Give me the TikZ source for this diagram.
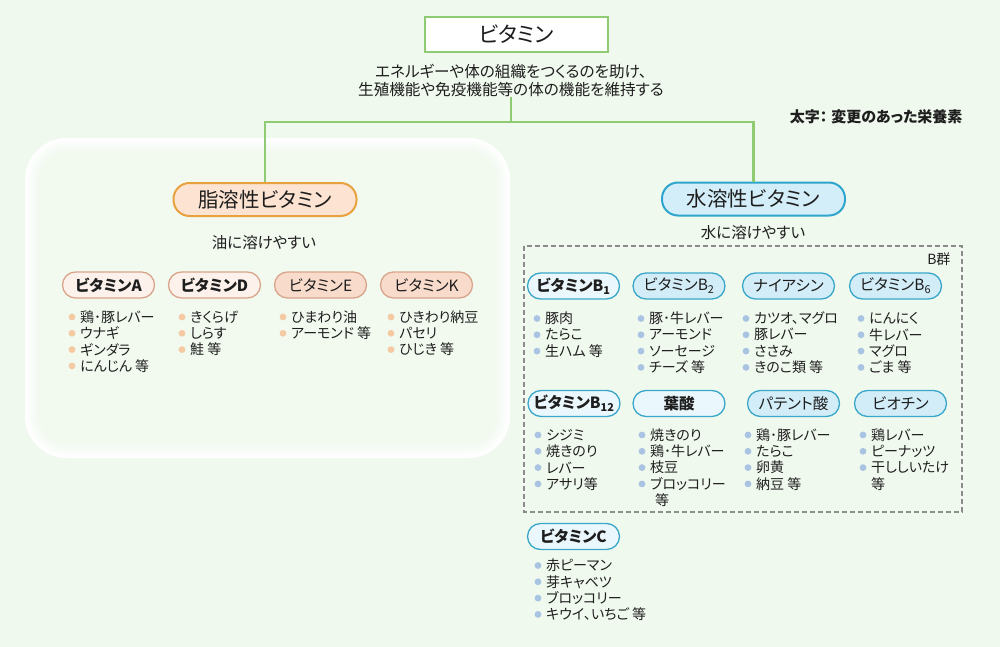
\documentclass[tikz,border=0pt]{standalone}
\usepackage{fontspec}
\setmainfont[RawFeature=+palt]{Noto Sans CJK JP}
\definecolor{bg}{HTML}{F0F9EE}
\definecolor{ink}{HTML}{1E1E1E}
\definecolor{linegreen}{HTML}{8FCB72}
\definecolor{fatedge}{HTML}{E9A13F}
\definecolor{fatfill}{HTML}{FCE3D2}
\definecolor{fatline}{HTML}{D9A58C}
\definecolor{fatpale}{HTML}{FDF2EB}
\definecolor{fatpeach}{HTML}{F9DBCB}
\definecolor{wateredge}{HTML}{2EA5CC}
\definecolor{waterfill}{HTML}{D3EEF9}
\definecolor{waterline}{HTML}{3AA7CA}
\definecolor{waterpale}{HTML}{EAF7FC}
\definecolor{waterblue}{HTML}{D2EDF8}
\definecolor{dotorange}{HTML}{F5C9A2}
\definecolor{dotblue}{HTML}{A9C4E3}
\definecolor{dashgray}{HTML}{8C8C8C}
\newcommand\fs[1]{\fontsize{#1}{#1}\selectfont}
\newcommand\foodlist[5]{%
  \foreach \food [count=\k] in {#5} {
    \fill[#1] (#2,{#3+16.3*(\k-1)}) circle (3.4);
    \node[food] (#4\k) at ({#2+8},{#3+16.3*(\k-1)}) {\food};
  }}
\begin{document}
\begin{tikzpicture}[x=1pt,y=-1pt,text=ink,
  topbox/.style={draw=linegreen,line width=2.2,fill=white,minimum width=183,minimum height=35,font=\fs{21.5}},
  bigpill/.style={rounded corners=16,minimum width=183,minimum height=33,line width=2,font=\fs{20.5}},
  fatbig/.style={bigpill,draw=fatedge,fill=fatfill},
  waterbig/.style={bigpill,draw=wateredge,fill=waterfill},
  pill/.style={rounded corners=13,minimum width=92,minimum height=26,line width=1.3,inner sep=0pt,font=\fs{15.5}},
  fatpill/.style={pill,draw=fatline,fill=fatpeach},
  fatnew/.style={pill,draw=fatline,fill=fatpale,font=\fs{15.5}\bfseries},
  waterpill/.style={pill,draw=waterline,fill=waterblue},
  waternew/.style={pill,draw=waterline,fill=waterpale,font=\fs{15.5}\bfseries},
  food/.style={anchor=west,inner sep=0pt,font=\fs{14}},
  note/.style={font=\fs{15.5}},
  link/.style={draw=linegreen,line width=2.8}]
\useasboundingbox (0,0) rectangle (1000,647);
\fill[bg] (0,0) rectangle (1000,647);
\foreach \k/\p in {0/100,2/88,4/75,6/62,8/48,10/34,12/22,14/12} {
  \fill[white!\p!bg,rounded corners={42-\k}] ({25+\k},{138+\k}) rectangle ({510-\k},{458-\k});
}
\node[topbox] (vit) at (516.5,34.5) {ビタミン};
\node[note,align=center,inner sep=1pt,font=\fs{15.6},text depth=0pt] (desc) at (511,80)
  {エネルギーや体の組織をつくるのを助け、\\[2.4pt]生殖機能や免疫機能等の体の機能を維持する};
\node[note,anchor=east,font=\fs{15}\bfseries] (bold) at (966,117) {太字：\hspace{4pt}変更のあった栄養素};
\node[fatbig] (fat) at (265,199.5) {脂溶性ビタミン};
\node[waterbig] (water) at (753.5,199) {水溶性ビタミン};
\coordinate (split) at (511,122);
\draw[link] (desc.south) -- (split);
\draw[link] (split) -| (fat.north);
\draw[link] (split) -| (water.north);
\node[note] (oil) at (264,243) {油に溶けやすい};
\node[note] (aqua) at (753,233) {水に溶けやすい};
\node[fatnew] (vA) at (108.5,285) {ビタミンA};
\node[fatnew] (vD) at (214.5,285) {ビタミンD};
\node[fatpill] (vE) at (320.5,285) {ビタミンE};
\node[fatpill] (vK) at (426.5,285) {ビタミンK};
\foodlist{dotorange}{72}{317}{a}{鶏･豚レバー,ウナギ,ギンダラ,にんじん 等}
\foodlist{dotorange}{182}{317}{d}{きくらげ,しらす,鮭 等}
\foodlist{dotorange}{283}{317}{e}{ひまわり油,アーモンド 等}
\foodlist{dotorange}{391}{317}{k}{ひきわり納豆,パセリ,ひじき 等}
\draw[dashgray,line width=1.2,dash pattern=on 5pt off 3pt] (524,246) rectangle (962,512);
\node[note,anchor=east,font=\fs{14}] (bgroup) at (954,259) {B群};
\node[waternew] (b1) at (573.5,286) {ビタミンB\textsubscript{1}};
\node[waterpill] (b2) at (679,286) {ビタミンB\textsubscript{2}};
\node[waterpill] (nia) at (788.5,286) {ナイアシン};
\node[waterpill] (b6) at (895.5,286) {ビタミンB\textsubscript{6}};
\foodlist{dotblue}{537}{318.5}{p}{豚肉,たらこ,生ハム 等}
\foodlist{dotblue}{641}{318.5}{q}{豚･牛レバー,アーモンド,ソーセージ,チーズ 等}
\foodlist{dotblue}{746}{318.5}{n}{カツオ、マグロ,豚レバー,ささみ,きのこ類 等}
\foodlist{dotblue}{861}{318.5}{s}{にんにく,牛レバー,マグロ,ごま 等}
\node[waternew] (b12) at (574,403.5) {ビタミンB\textsubscript{12}};
\node[waternew] (fol) at (679,403.5) {葉酸};
\node[waterpill] (pan) at (793.5,403.5) {パテント酸};
\node[waterpill] (bio) at (900.5,403.5) {ビオチン};
\foodlist{dotblue}{538}{435}{t}{シジミ,焼きのり,レバー,アサリ等}
\foodlist{dotblue}{642}{435}{f}{焼きのり,鶏･牛レバー,枝豆,ブロッコリー}
\node[food] (f5) at (655,500) {等};
\foodlist{dotblue}{748}{435}{m}{鶏･豚レバー,たらこ,卵黄,納豆 等}
\foodlist{dotblue}{863}{435}{h}{鶏レバー,ピーナッツ,干ししいたけ}
\node[food] (h4) at (871,484) {等};
\node[waternew] (vC) at (573.5,536.5) {ビタミンC};
\foodlist{dotblue}{538}{565.5}{c}{赤ピーマン,芽キャベツ,ブロッコリー,キウイ、いちご 等}
\end{tikzpicture}
\end{document}
